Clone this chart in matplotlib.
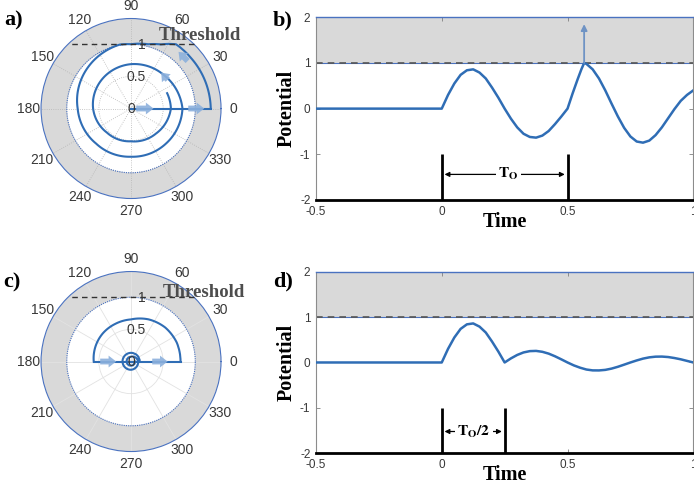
import matplotlib.pyplot as plt
import numpy as np

plt.rcParams['font.family'] = ['Liberation Sans', 'DejaVu Sans']
plt.rcParams['mathtext.fontset'] = 'stix'

# ---------------- data ----------------
threshold = 1.0
r_max = 1.4

# a) phasor path: kick along 0 deg, then spiral (theta in degrees)
a_kick_theta = [0, 0]
a_kick_r = [0, 1.24]
a_path_theta = [0, 20, 40, 55, 65, 75, 90, 100, 135, 180, 225, 270, 315, 360,
                405, 450, 495, 540, 585, 630, 675, 720, 743]
a_path_r = [1.24, 1.23, 1.22, 1.22, 1.10, 1.035, 1.0, 1.01, 0.93, 0.83, 0.77,
            0.75, 0.77, 0.80, 0.73, 0.69, 0.64, 0.59, 0.53, 0.51, 0.55, 0.62, 0.61]
# arrows: theta tail, r tail, theta head, r head
a_arrows = [(0, 0.08, 0, 0.35), (0, 0.89, 0, 1.14),
            (38, 0.725, 50, 0.73), (40, 1.15, 50, 1.15)]

# c) phasor path with the second kick at half period
c_kick_theta = [180, 0, 0]
c_kick_r = [0.58, 0, 0.77]
c_arc_theta = [0, 22.5, 45, 67.5, 90, 112.5, 135, 157.5, 180]
c_arc_r = [0.77, 0.77, 0.75, 0.71, 0.655, 0.635, 0.62, 0.60, 0.58]
c_loop_theta = [0, 90, 180, 270, 360, 450, 540, 630, 720]
c_loop_r = [0.135, 0.135, 0.132, 0.128, 0.11, 0.075, 0.068, 0.065, 0.062]
c_arrows = [(180, 0.48, 180, 0.23), (0, 0.33, 0, 0.57)]

theta_ticks = [0, 30, 60, 90, 120, 150, 180, 210, 240, 270, 300, 330]
r_ticks = [0, 0.5, 1]
r_tick_labels = ['0', '0.5', '1']
r_label_angle = 80

# b) potential, stimuli at 0 and T0
b_time = [-0.5, 0, 0.025, 0.05, 0.075, 0.1, 0.125, 0.15, 0.175, 0.2, 0.225,
          0.25, 0.275, 0.3, 0.325, 0.35, 0.375, 0.4, 0.425, 0.45, 0.475, 0.5,
          0.52, 0.54, 0.555, 0.566, 0.575, 0.6, 0.625, 0.65, 0.675, 0.7, 0.725,
          0.75, 0.775, 0.8, 0.825, 0.85, 0.875, 0.9, 0.925, 0.95, 0.975, 1.0]
b_pot = [0, 0, 0.30, 0.55, 0.74, 0.84, 0.86, 0.79, 0.66, 0.46, 0.24,
         0.0, -0.22, -0.41, -0.55, -0.62, -0.635, -0.59, -0.49, -0.34, -0.175, 0.0,
         0.33, 0.64, 0.86, 1.0, 0.98, 0.86, 0.66, 0.40, 0.11, -0.17, -0.42,
         -0.61, -0.72, -0.745, -0.70, -0.58, -0.41, -0.21, -0.01, 0.17, 0.30, 0.40]
b_marks = [0, 0.5]
b_fire = 0.566

# d) potential, stimuli at 0 and T0/2
d_time = [-0.5, 0, 0.025, 0.05, 0.075, 0.1, 0.125, 0.15, 0.175, 0.2, 0.225,
          0.25, 0.275, 0.3, 0.325, 0.35, 0.375, 0.4, 0.425, 0.45, 0.475, 0.5,
          0.525, 0.55, 0.575, 0.6, 0.625, 0.65, 0.675, 0.7, 0.725, 0.75,
          0.775, 0.8, 0.825, 0.85, 0.875, 0.9, 0.925, 0.95, 0.975, 1.0]
d_pot = [0, 0, 0.30, 0.55, 0.74, 0.84, 0.86, 0.79, 0.66, 0.46, 0.24,
         0.0, 0.09, 0.166, 0.221, 0.25, 0.255, 0.235, 0.195, 0.137, 0.07, 0.0,
         -0.064, -0.115, -0.155, -0.174, -0.175, -0.163, -0.135, -0.095, -0.048, 0.0,
         0.045, 0.085, 0.113, 0.128, 0.13, 0.12, 0.098, 0.07, 0.035, 0.0]
d_marks = [0, 0.25]

x_ticks = [-0.5, 0, 0.5, 1]
x_tick_labels = ['-0.5', '0', '0.5', '1']
y_ticks = [-2, -1, 0, 1, 2]

line_blue = '#2f6db5'
arrow_blue = '#8cb0dc'
edge_blue = '#4a72c0'
shade = '#d9d9d9'
label_grey = '#383838'
serif = ['Liberation Serif', 'DejaVu Serif']

fig = plt.figure(figsize=(6.94, 4.91), dpi=100)


def spiral(ax, th_deg, r, **kw):
    # let the polar transform draw each piece as a spiral/arc, not a chord
    ln, = ax.plot(np.deg2rad(th_deg), r, **kw)
    ln.get_path()._interpolation_steps = 40
    return ln


def polar_panel(rect, grid_ls, grid_col):
    ax = fig.add_axes(rect, projection='polar')
    ax.set_ylim(0, r_max)
    ax.bar(0, r_max - threshold, width=2 * np.pi, bottom=threshold,
           color=shade, edgecolor='none', zorder=0.5)
    ring = np.linspace(0, 2 * np.pi, 361)
    ax.plot(ring, np.full_like(ring, threshold), color=edge_blue, lw=0.8,
            ls=(0, (1, 1)), zorder=2)
    ax.spines['polar'].set_color(edge_blue)
    ax.spines['polar'].set_linestyle((0, (1, 1)))
    ax.spines['polar'].set_linewidth(0.8)
    ax.set_thetagrids(theta_ticks, labels=[str(t) for t in theta_ticks])
    ax.set_rticks(r_ticks)
    ax.set_yticklabels([])
    for r, lab in zip(r_ticks, r_tick_labels):
        ax.text(np.deg2rad(r_label_angle), r, lab, ha='center', va='center',
                fontsize=10, color=label_grey, zorder=6)
    ax.grid(True, color=grid_col, ls=grid_ls, lw=0.6)
    ax.tick_params(axis='x', length=0, pad=2, labelsize=10, colors=label_grey)
    half = np.arcsin(threshold / r_max)
    ax.plot([half, np.pi - half], [r_max, r_max], color='#333333',
            ls=(0, (4, 3)), lw=1.0, clip_on=False, zorder=4)
    return ax


def polar_arrows(ax, arrows):
    for t0, r0, t1, r1 in arrows:
        ax.annotate('', xy=(np.deg2rad(t1), r1), xytext=(np.deg2rad(t0), r0),
                    arrowprops=dict(arrowstyle='simple,head_length=0.55,head_width=0.85,tail_width=0.42',
                                    color=arrow_blue, alpha=0.9, lw=0,
                                    shrinkA=0, shrinkB=0, mutation_scale=10),
                    zorder=5)


# a)
ax_a = polar_panel([0.0591, 0.5957, 0.2594, 0.3666], ':', '#b5b5b5')
ax_a.plot(np.deg2rad(a_kick_theta), a_kick_r, color=line_blue, lw=1.5, zorder=3)
spiral(ax_a, a_path_theta, a_path_r, color=line_blue, lw=1.5, zorder=3)
polar_arrows(ax_a, a_arrows)

# c)
ax_c = polar_panel([0.0591, 0.0804, 0.2594, 0.3666], '-', '#e2e2e2')
ax_c.plot(np.deg2rad(c_kick_theta), c_kick_r, color=line_blue, lw=1.5, zorder=3)
spiral(ax_c, c_arc_theta, c_arc_r, color=line_blue, lw=1.5, zorder=3)
spiral(ax_c, c_loop_theta, c_loop_r, color=line_blue, lw=1.5, zorder=3)
polar_arrows(ax_c, c_arrows)


def line_panel(rect, t, v, marks, span_label, span_y, span_text_x):
    ax = fig.add_axes(rect)
    ax.axhspan(threshold, 2, color=shade, lw=0, zorder=0)
    ax.axhline(threshold, color=edge_blue, lw=0.8, zorder=1)
    ax.axhline(threshold, color='#555555', lw=1.2, ls=(0, (4, 3)), zorder=2)
    ax.plot(t, v, color=line_blue, lw=1.8, zorder=3)
    for m in marks:
        ax.plot([m, m], [-2, -1], color='black', lw=2, solid_capstyle='butt')
    ax.annotate('', xy=(marks[0], span_y), xytext=(marks[1], span_y),
                arrowprops=dict(arrowstyle='<|-|>', color='black', lw=0.9,
                                mutation_scale=7, shrinkA=2, shrinkB=2))
    ax.text(span_text_x, span_y, span_label, ha='center', va='center',
            fontsize=11, bbox=dict(fc='white', ec='none', pad=1.5))
    ax.set_xlim(-0.5, 1)
    ax.set_ylim(-2, 2)
    ax.set_xticks(x_ticks)
    ax.set_xticklabels(x_tick_labels)
    ax.set_yticks(y_ticks)
    ax.set_yticklabels([str(y) for y in y_ticks])
    ax.tick_params(direction='in', length=3, width=0.6, color='#808080',
                   labelcolor=label_grey, labelsize=8.5, top=True, right=True, pad=4)
    for s in ['left', 'right']:
        ax.spines[s].set_color('#8c8c8c')
        ax.spines[s].set_linewidth(0.8)
    ax.spines['top'].set_color(edge_blue)
    ax.spines['top'].set_linewidth(1.0)
    ax.spines['bottom'].set_color('black')
    ax.spines['bottom'].set_linewidth(2)
    ax.set_ylabel('Potential', family=serif, weight='bold', fontsize=14.5)
    ax.yaxis.set_label_coords(-0.052, 0.5)
    ax.set_xlabel('Time', family=serif, weight='bold', fontsize=14.5)
    ax.xaxis.set_label_coords(0.5, -0.065)
    return ax


ax_b = line_panel([0.4553, 0.5927, 0.5437, 0.3721], b_time, b_pot, b_marks,
                  r'$\mathbf{T}_\mathbf{O}$', -1.44, 0.265)
ax_b.annotate('', xy=(b_fire, 1.85), xytext=(b_fire, threshold),
              arrowprops=dict(arrowstyle='-|>', color='#6f93c4', lw=1.3,
                              mutation_scale=9, shrinkA=0, shrinkB=0), zorder=4)

ax_d = line_panel([0.4553, 0.0768, 0.5437, 0.3699], d_time, d_pot, d_marks,
                  r'$\mathbf{T}_\mathbf{O}\mathbf{/2}$', -1.52, 0.128)

# annotations
thr_style = dict(family=serif, weight='bold', fontsize=13.5, color='#4d4d4d',
                 ha='left', va='baseline')
fig.text(0.229, 0.9185, 'Threshold', **thr_style)
fig.text(0.235, 0.3957, 'Threshold', **thr_style)

lab_style = dict(family=serif, weight='bold', fontsize=16, color='black',
                 ha='left', va='center')
fig.text(0.006, 0.958, 'a)', **lab_style)
fig.text(0.393, 0.958, 'b)', **lab_style)
fig.text(0.004, 0.424, 'c)', **lab_style)
fig.text(0.393, 0.426, 'd)', **lab_style)

fig.savefig('out.png', dpi=100)
